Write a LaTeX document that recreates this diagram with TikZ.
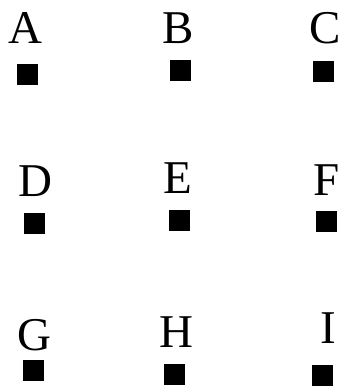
\documentclass[tikz,border=0pt]{standalone}
\usepackage{fontspec}
\setmainfont{Liberation Serif}
\usepackage{tikz}
\usetikzlibrary{positioning}

\begin{document}
\begin{tikzpicture}[x=1pt,y=-1pt,
  blk/.style={fill=black,minimum size=21pt,inner sep=0pt},
  lbl/.style={inner sep=0pt,anchor=base,font=\fontsize{47}{47}\selectfont}]
  \useasboundingbox (0,0) rectangle (340,388);
  % top row
  \node[lbl] (la) at (25,43) {A};
  \node[lbl] (lb) at (178,43) {B};
  \node[lbl] (lc) at (325,43) {C};
  \node[blk] (a) at (27.5,74) {};
  \node[blk] (b) at (180,70.5) {};
  \node[blk] (c) at (323.5,71.5) {};
  % middle row
  \node[lbl] (ld) at (35,196) {D};
  \node[lbl] (le) at (178,193) {E};
  \node[lbl] (lf) at (327,195) {F};
  \node[blk] (d) at (34,223.5) {};
  \node[blk] (e) at (179,220) {};
  \node[blk] (f) at (326.5,221.5) {};
  % bottom row
  \node[lbl] (lg) at (34.5,350) {G};
  \node[lbl] (lh) at (176.5,347) {H};
  \node[lbl] (li) at (328,343) {I};
  \node[blk] (g) at (33,370) {};
  \node[blk] (h) at (174.5,374) {};
  \node[blk] (i) at (322.5,375) {};
\end{tikzpicture}
\end{document}
